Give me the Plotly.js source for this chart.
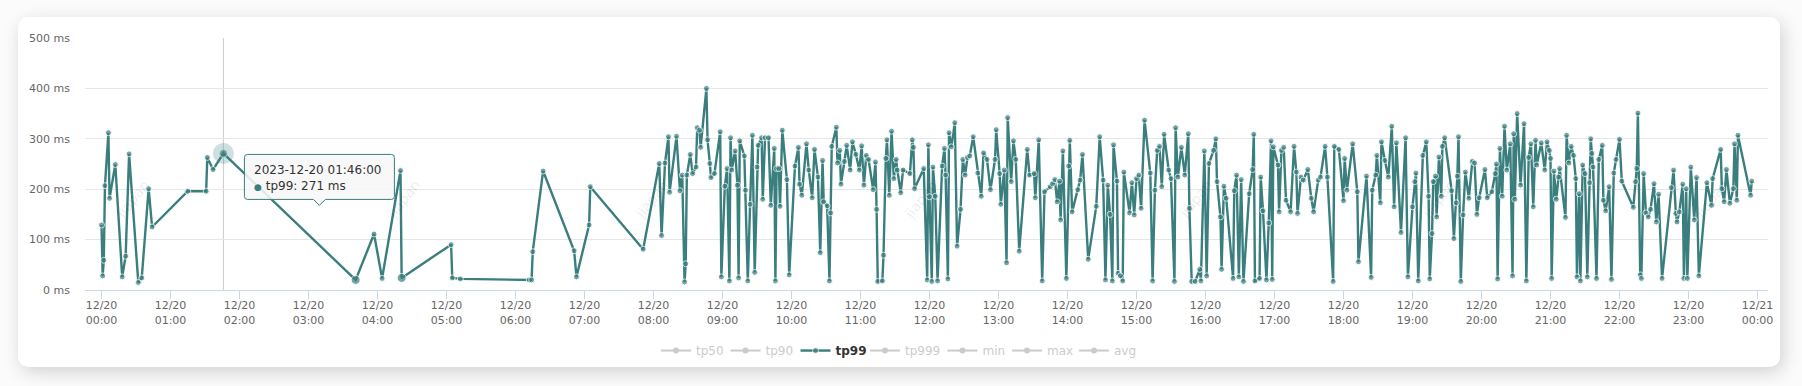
<!DOCTYPE html>
<html>
<head>
<meta charset="utf-8">
<script src="https://cdn.plot.ly/plotly-3.0.1.min.js"></script>
<style>
  html, body { margin: 0; padding: 0; width: 1802px; height: 386px; overflow: hidden; background: #fbfbfb; }
  #card { position: absolute; left: 18px; top: 17px; width: 1762px; height: 350px; background: #ffffff;
          border-radius: 10px; box-shadow: 3px 5px 18px rgba(0,0,0,0.17); overflow: hidden; }
  #chart { width: 1762px; height: 350px; }
</style>
</head>
<body>
<div id="card"><div id="chart"></div></div>
<script>
// ---- data ----
const day = '2023-12-20';
const seriesNames = ['tp50', 'tp90', 'tp99', 'tp999', 'min', 'max', 'avg'];
const shownSeries = 'tp99';

const times = [
 '00:00','00:01','00:02','00:03','00:06','00:07','00:12','00:18','00:21','00:24','00:32','00:35','00:41','00:44',
 '01:15','01:31','01:32','01:37','01:46','03:41','03:57','04:04','04:20','04:21','05:04','05:05','05:12',
 '06:12','06:14','06:15','06:24','06:51','06:53','07:04','07:05','07:51',
 '08:05','08:07','08:10','08:13','08:14','08:20','08:23','08:25','08:27','08:28','08:29','08:32','08:34','08:37','08:38',
 '08:40','08:41','08:46','08:47','08:49','08:50','08:53','08:58','08:59',
 '09:02','09:04','09:06','09:07','09:08','09:11','09:13','09:14','09:15','09:19','09:20','09:22','09:24','09:26','09:28',
 '09:30','09:31','09:34','09:35','09:37','09:40','09:42','09:45','09:46','09:47','09:49','09:50','09:52','09:56','09:58',
 '10:03','10:06','10:07','10:09','10:13','10:15','10:18','10:20','10:23','10:25','10:27','10:28','10:31','10:33','10:34',
 '10:35','10:39','10:40','10:42','10:43','10:46','10:48','10:51','10:53','10:56','10:59',
 '11:01','11:03','11:05','11:07','11:11','11:13','11:14','11:15','11:19','11:20','11:22','11:23','11:25','11:27','11:29',
 '11:31','11:32','11:35','11:37','11:43','11:45','11:46','11:47','11:55','11:58','11:59',
 '12:00','12:02','12:03','12:05','12:07','12:11','12:13','12:14','12:16','12:17','12:19','12:22','12:24','12:27','12:29',
 '12:31','12:33','12:35','12:38','12:42','12:45','12:47','12:50','12:53','12:57','12:58',
 '13:01','13:02','13:05','13:07','13:08','13:11','13:13','13:15','13:18','13:25','13:27','13:31','13:32','13:35','13:38',
 '13:40','13:45','13:47','13:49','13:51','13:53','13:54','13:56','13:59',
 '14:01','14:02','14:04','14:09','14:11','14:13','14:18','14:25','14:28','14:31','14:33','14:35','14:37','14:39','14:40',
 '14:43','14:44','14:46','14:48','14:49','14:54','14:56','14:58',
 '15:00','15:02','15:04','15:07','15:12','15:14','15:16','15:18','15:20','15:22','15:24','15:28','15:30','15:33','15:34',
 '15:36','15:39','15:42','15:45','15:46','15:48','15:51','15:55','15:56','15:59',
 '16:01','16:03','16:07','16:09','16:10','16:13','16:14','16:16','16:18','16:24','16:25','16:27','16:29','16:31','16:33',
 '16:38','16:41','16:42','16:43','16:47','16:48','16:50','16:53','16:55','16:57','16:58','16:59',
 '17:03','17:04','17:06','17:08','17:10','17:14','17:17','17:19','17:20','17:23','17:25','17:29','17:32','17:34','17:38',
 '17:40','17:44','17:46','17:51','17:52','17:56',
 '18:00','18:01','18:03','18:08','18:12','18:13','18:20','18:24','18:25','18:28','18:29','18:32','18:33','18:36','18:39',
 '18:42','18:44','18:46','18:50','18:54','18:56',
 '19:00','19:02','19:03','19:05','19:09','19:12','19:14','19:15','19:17','19:18','19:20','19:21','19:23','19:25','19:26',
 '19:28','19:34','19:36','19:38','19:39','19:40','19:42','19:44','19:46','19:49','19:52','19:54','19:56','19:58',
 '20:03','20:05','20:09','20:12','20:13','20:14','20:16','20:18','20:20','20:22','20:25','20:27','20:28','20:29','20:31',
 '20:34','20:37','20:39','20:41','20:43','20:45','20:47','20:48','20:52','20:55','20:57','20:59',
 '21:00','21:01','21:03','21:05','21:07','21:08','21:13','21:14','21:16','21:18','21:20','21:22','21:23','21:25','21:26',
 '21:28','21:30','21:32','21:34','21:35','21:36','21:37','21:40','21:42','21:45','21:46','21:48','21:51','21:53','21:55','21:57',
 '22:00','22:02','22:12','22:14','22:15','22:16','22:18','22:19','22:21','22:23','22:25','22:27','22:30','22:32','22:34',
 '22:37','22:45','22:47','22:49','22:50','22:52','22:55','22:56','22:58','22:59',
 '23:02','23:05','23:07','23:09','23:16','23:20','23:21','23:28','23:29','23:31','23:33','23:36','23:39','23:40','23:42',
 '23:43','23:54','23:55'
];

const tp99 = [
 129,28,59,207,312,182,249,26,67,270,15,24,201,125,
 196,196,263,239,271,20,111,23,237,24,90,24,22,
 20,20,76,236,78,26,129,205,81,
 251,108,252,304,194,305,197,228,16,52,228,269,231,244,322,
 317,283,400,298,251,223,231,314,26,
 206,241,18,302,238,276,208,24,296,266,198,18,170,307,35,
 244,287,302,180,302,302,168,281,18,241,241,166,317,219,30,
 246,283,210,188,290,238,183,279,224,74,257,175,167,18,153,
 285,323,252,277,210,255,287,238,294,269,238,
 286,208,267,259,199,254,160,17,18,69,261,298,188,315,221,
 259,238,193,238,231,298,283,201,241,20,288,
 185,17,244,186,18,246,281,228,22,312,284,332,87,160,259,
 228,263,266,304,232,186,272,259,199,259,318,
 231,170,238,54,342,215,296,259,77,279,228,231,183,298,18,
 195,205,211,219,175,216,139,276,23,
 246,297,155,199,218,269,61,166,304,218,20,208,150,18,288,
 216,33,28,18,234,153,213,149,
 221,228,162,337,232,18,198,277,285,205,309,238,221,17,322,
 224,283,228,310,162,17,17,41,18,276,
 28,251,277,300,215,145,41,206,182,23,197,228,26,219,17,
 191,239,309,18,23,224,157,20,133,296,21,284,
 248,155,277,283,178,155,285,234,152,224,218,239,182,155,218,
 224,285,224,17,285,279,
 177,261,198,290,195,56,226,25,198,228,267,173,294,257,224,
 325,165,292,114,302,26,
 165,215,232,18,267,294,186,22,112,215,226,145,264,186,285,
 302,197,102,173,226,304,17,149,234,182,255,252,150,183,
 239,183,195,231,250,22,281,186,325,238,290,28,310,180,350,
 208,330,18,263,290,165,297,248,292,238,294,277,
 261,23,236,180,224,241,144,307,252,285,267,221,26,191,18,
 248,231,26,213,300,271,244,23,259,287,178,157,205,21,232,259,
 299,216,164,215,241,351,30,23,231,153,145,160,211,135,190,
 23,203,238,152,135,155,210,23,201,23,
 244,139,223,28,213,168,221,279,201,175,239,172,201,290,178,
 307,188,216
];

// display state of the reference
const hoverTime = '01:46';
const enlargedTimes = ['03:41', '04:21'];

// ---- build ----
const lineColor = '#3a7e7e';
const x = times.map(t => day + ' ' + t);
const hi = times.indexOf(hoverTime);
const hoverX = x[hi], hoverY = tp99[hi];
const markerSizes = times.map(t => enlargedTimes.includes(t) ? 9 : (t === hoverTime ? 8 : 6));

// legend entry widths (px) to mimic the compact legend spacing
const legendWidths = { tp50: 24.5, tp90: 25, tp99: 24.5, tp999: 32.5, min: 19.5, max: 22, avg: 0 };

const traces = seriesNames.map(name => {
  if (name === shownSeries) {
    return {
      type: 'scatter', mode: 'lines+markers', name: '<b>' + name + '</b>', x: x, y: tp99,
      line: { color: lineColor, width: 2.4 },
      marker: { color: lineColor, size: markerSizes },
      legendwidth: legendWidths[name],
      hoverinfo: 'skip'
    };
  }
  // hidden series: legend entry only (their values are not shown in the reference)
  return {
    type: 'scatter', mode: 'lines+markers', visible: 'legendonly',
    name: '<span style="color:#999999">' + name + '</span>', x: [x[0]], y: [null],
    legendwidth: legendWidths[name],
    line: { color: '#999999', width: 2 }, marker: { color: '#999999', size: 6 }
  };
});
// hover halo
traces.push({
  type: 'scatter', mode: 'markers', x: [hoverX], y: [hoverY], showlegend: false, hoverinfo: 'skip',
  marker: { color: 'rgba(58,126,126,0.25)', size: 21 }
});

const font = 'DejaVu Sans, Verdana, sans-serif';

// watermark positions (paper fractions)
const wmX = [0.015, 0.176, 0.337, 0.497, 0.660, 0.818, 0.980];
const watermarks = wmX.map(px => ({
  xref: 'paper', yref: 'paper', x: px, y: 0.36, text: 'jiapan', showarrow: false,
  textangle: -52, font: { family: font, size: 14, color: 'rgba(0,0,0,0.09)' }
}));

const tooltipPath = 'M24,-1 L168,-1 Q171,-1 171,-4 L171,-43 Q171,-46 168,-46 L102,-46 L96,-52 L90,-46 L24,-46 Q21,-46 21,-43 L21,-4 Q21,-1 24,-1 Z';

const layout = {
  width: 1762, height: 350,
  margin: { l: 67, r: 12, t: 21, b: 77 },
  paper_bgcolor: 'rgba(0,0,0,0)', plot_bgcolor: 'rgba(0,0,0,0)',
  font: { family: font, color: '#666666', size: 11 },
  showlegend: true,
  hovermode: false,
  xaxis: {
    type: 'date',
    range: ['2023-12-19 23:45:39', '2023-12-21 00:09:08'],
    tick0: day + ' 00:00', dtick: 3600000,
    tickformat: '%m/%d<br>%H:%M',
    ticks: 'outside', ticklen: 8, tickcolor: '#ccd6eb', tickwidth: 1,
    showline: true, linecolor: '#ccd6eb', linewidth: 1,
    showgrid: false, zeroline: false,
    ticklabelstandoff: -3,
    tickfont: { family: font, size: 11, color: '#666666' }
  },
  yaxis: {
    range: [0, 500], dtick: 100, tick0: 0,
    ticksuffix: ' ms',
    showgrid: true, gridcolor: '#e6e6e6', gridwidth: 1,
    zeroline: false, showline: false, ticks: '',
    ticklabelstandoff: 14,
    tickfont: { family: font, size: 11, color: '#666666' }
  },
  legend: {
    orientation: 'h', xref: 'container', yref: 'container',
    x: 0.5, xanchor: 'center', y: 0.047, yanchor: 'middle',
    font: { family: font, size: 12, color: '#333333' },
    bgcolor: 'rgba(0,0,0,0)', itemclick: false, itemdoubleclick: false
  },
  shapes: [
    { type: 'line', xref: 'x', yref: 'paper', x0: hoverX, x1: hoverX, y0: 0, y1: 1,
      line: { color: '#cccccc', width: 1 }, layer: 'below' },
    { type: 'path', xref: 'x', yref: 'y', xsizemode: 'pixel', ysizemode: 'pixel',
      xanchor: hoverX, yanchor: hoverY, path: tooltipPath,
      fillcolor: 'rgba(247,247,247,0.88)', line: { color: lineColor, width: 1 }, layer: 'above' }
  ],
  annotations: watermarks.concat([{
    xref: 'x', yref: 'y', x: hoverX, y: hoverY, showarrow: false,
    xanchor: 'left', yanchor: 'middle', align: 'left', xshift: 28.5, yshift: -25,
    text: day + ' ' + hoverTime + ':00<br><span style="color:' + lineColor + ';font-size:9px">●</span> ' +
          shownSeries + ': ' + hoverY + ' ms',
    font: { family: font, size: 12, color: '#333333' }
  }])
};

Plotly.newPlot('chart', traces, layout, { displayModeBar: false, staticPlot: true });
</script>
</body>
</html>
